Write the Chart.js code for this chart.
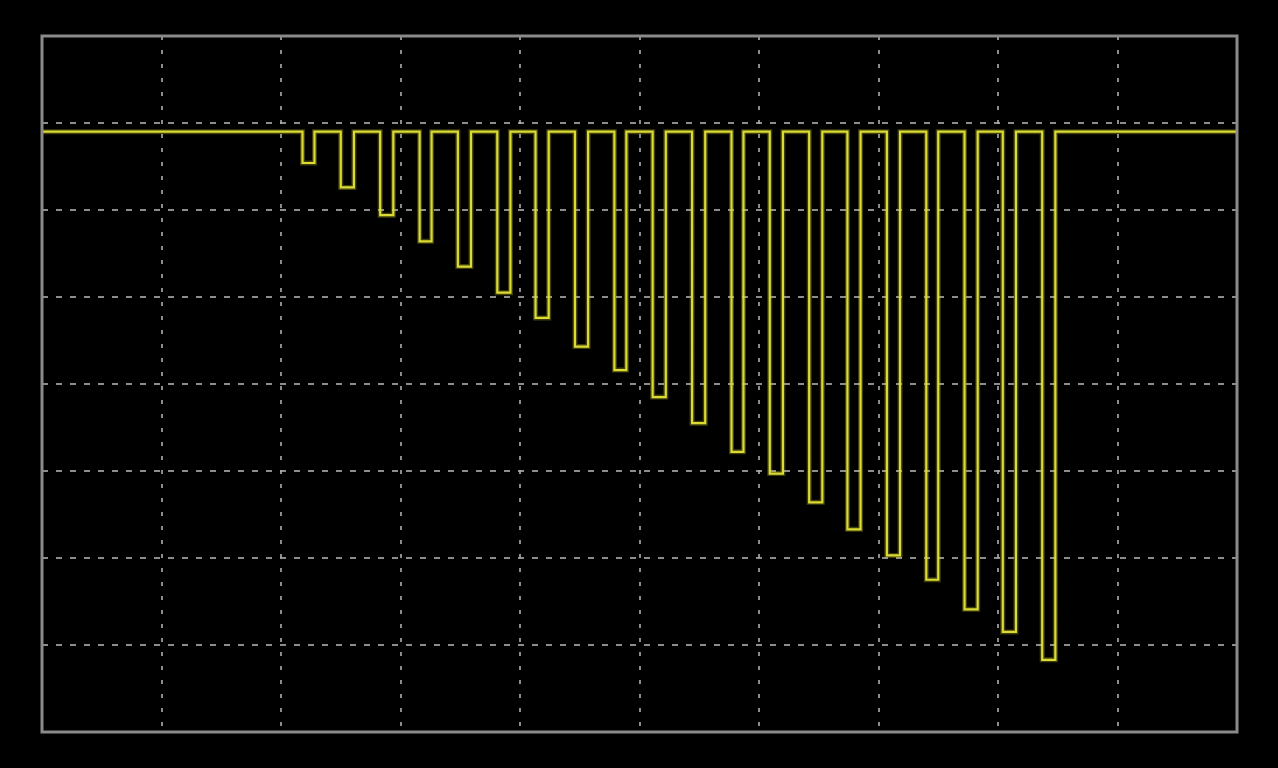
<!DOCTYPE html>
<html>
<head>
<meta charset="utf-8">
<title>Pulse trace</title>
<script src="https://cdn.jsdelivr.net/npm/chart.js@4"></script>
<style>
    html, body { margin: 0; padding: 0; background: #000; }
    #wrap { width: 1278px; height: 768px; }
</style>
</head>
<body>
<div id="wrap"><canvas id="scope" width="1278" height="768"></canvas></div>
<script>
// Screen in divisions: 10 across, 8 high (centre = 0)
const xDivs = [0, 10];
const yDivs = [-4, 4];

// Trace (divisions)
const baseLevel = 2.9;
const pulseStart = [2.18, 2.50, 2.83, 3.16, 3.48, 3.81, 4.13, 4.46, 4.79, 5.11,
                    5.44, 5.77, 6.09, 6.42, 6.74, 7.07, 7.40, 7.72, 8.04, 8.37];
const pulseEnd   = [2.28, 2.61, 2.94, 3.26, 3.59, 3.92, 4.24, 4.57, 4.89, 5.22,
                    5.55, 5.87, 6.20, 6.53, 6.85, 7.18, 7.50, 7.83, 8.15, 8.48];
const pulseLevel = [2.54, 2.26, 1.94, 1.64, 1.35, 1.05, 0.76, 0.43, 0.16, -0.15,
                    -0.45, -0.78, -1.03, -1.36, -1.67, -1.97, -2.25, -2.59, -2.85, -3.17];

// Build the square-edged trace from the pulse list
function buildTrace() {
    const pts = [{ x: xDivs[0], y: baseLevel }];
    pulseStart.forEach((s, i) => {
        pts.push({ x: s, y: baseLevel });
        pts.push({ x: s, y: pulseLevel[i] });
        pts.push({ x: pulseEnd[i], y: pulseLevel[i] });
        pts.push({ x: pulseEnd[i], y: baseLevel });
    });
    pts.push({ x: xDivs[1], y: baseLevel });
    return pts;
}

// Solid frame around the graticule
const frame = {
    id: 'frame',
    afterDraw(chart) {
        const a = chart.chartArea;
        const ctx = chart.ctx;
        ctx.save();
        ctx.strokeStyle = '#8a8a8a';
        ctx.lineWidth = 3;
        ctx.strokeRect(a.left, a.top, a.right - a.left, a.bottom - a.top);
        ctx.restore();
    }
};

const trace = buildTrace();

new Chart(document.getElementById('scope'), {
    type: 'scatter',
    data: {
        datasets: [
            {
                // soft glow under the beam
                data: trace,
                showLine: true,
                borderColor: 'rgba(210, 210, 40, 0.3)',
                borderWidth: 5,
                pointRadius: 0,
                tension: 0
            },
            {
                data: trace,
                showLine: true,
                borderColor: '#e0e03a',
                borderWidth: 2.2,
                pointRadius: 0,
                tension: 0
            }
        ]
    },
    options: {
        responsive: false,
        animation: false,
        layout: { padding: { left: 42, right: 41, top: 36, bottom: 36 } },
        plugins: {
            legend: { display: false },
            tooltip: { enabled: false }
        },
        scales: {
            x: {
                type: 'linear',
                min: xDivs[0],
                max: xDivs[1],
                ticks: { display: false, stepSize: 1 },
                grid: { color: 'rgba(175,175,175,0.8)', lineWidth: 2, drawTicks: false },
                border: { display: false, dash: [4, 10] }
            },
            y: {
                type: 'linear',
                min: yDivs[0],
                max: yDivs[1],
                ticks: { display: false, stepSize: 1 },
                grid: { color: 'rgba(175,175,175,0.8)', lineWidth: 2, drawTicks: false },
                border: { display: false, dash: [6, 8] }
            }
        }
    },
    plugins: [frame]
});
</script>
</body>
</html>
